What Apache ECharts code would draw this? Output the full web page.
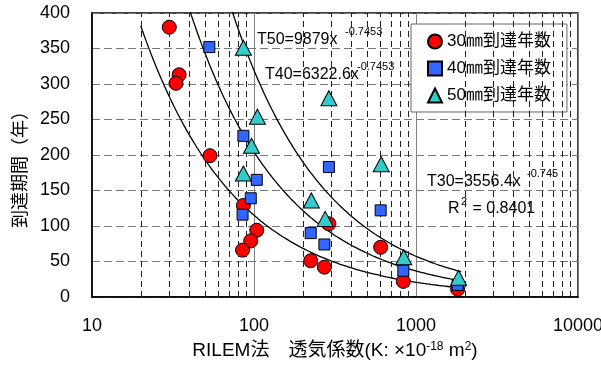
<!DOCTYPE html>
<html>
<head>
    <meta charset="UTF-8">
    <title>ECharts</title>
    <script src="https://cdn.jsdelivr.net/npm/echarts@6/dist/echarts.min.js"></script>
    <style>
        html, body { margin: 0; padding: 0; background: #fff; }
        #main { width: 601px; height: 367px; }
    </style>
</head>
<body>
    <div id="main"></div>
    <script type="text/javascript">
        // 30mm到達年数 [K, 年]
        var t30 = [
            [30, 380], [34.5, 313], [33, 301], [53.5, 199], [86, 129], [104, 94],
            [95.5, 79], [85, 66], [224, 51], [272, 42], [290, 103], [605, 70],
            [835, 22], [1807, 11]
        ];
        // 40mm到達年数
        var t40 = [
            [53, 352], [86, 227], [104, 165], [95.5, 139], [85, 116], [290, 183],
            [224, 90], [272, 74], [605, 122], [835, 37], [1807, 17]
        ];
        // 50mm到達年数
        var t50 = [
            [86, 351], [290, 280], [105, 254], [96.5, 213], [86, 174], [226, 136],
            [275, 110], [610, 187], [840, 56], [1830, 27]
        ];
        // 近似曲線 T = a * x^b
        var fitA = [3556.4, 6322.6, 9879];
        var fitB = [-0.745, -0.7453, -0.7453];
        var fitRange = [20, 1900];

        var yTicks = [0, 50, 100, 150, 200, 250, 300, 350, 400];
        var xTicks = [10, 100, 1000, 10000];
        var minorGrid = [20, 30, 40, 50, 60, 70, 80, 90, 200, 300, 400, 500, 600, 700, 800, 900,
                         2000, 3000, 4000, 5000, 6000, 7000, 8000, 9000];

        var FONT = "'Liberation Sans', Arial, 'Noto Sans CJK JP'";

        function fitCurve(a, b) {
            var pts = [];
            var n = 60;
            var l0 = Math.log10(fitRange[0]), l1 = Math.log10(fitRange[1]);
            for (var i = 0; i <= n; i++) {
                var x = Math.pow(10, l0 + (l1 - l0) * i / n);
                pts.push([x, a * Math.pow(x, b)]);
            }
            return pts;
        }

        var myChart = echarts.init(document.getElementById('main'));

        var fitSeries = fitA.map(function (a, i) {
            return {
                name: 'fit' + i,
                type: 'line',
                data: fitCurve(a, fitB[i]),
                showSymbol: false,
                smooth: true,
                clip: true,
                z: 3,
                silent: true,
                lineStyle: { color: '#000', width: 1.3 }
            };
        });

        var option = {
            animation: false,
            backgroundColor: '#fff',
            textStyle: { fontFamily: FONT },
            grid: {
                left: 92, right: 23, top: 13, bottom: 70,
                outerBoundsMode: 'none', containLabel: false,
                show: true, borderColor: '#000', borderWidth: 1.5, backgroundColor: 'transparent'
            },
            legend: {
                data: ['30㎜到達年数', '40㎜到達年数', '50㎜到達年数'],
                orient: 'vertical',
                left: 411, top: 24,
                padding: [9, 16, 8, 16],
                itemGap: 10,
                itemWidth: 14, itemHeight: 14,
                backgroundColor: '#fff',
                borderColor: '#666',
                borderWidth: 1,
                textStyle: { fontSize: 17, color: '#000', fontFamily: FONT }
            },
            xAxis: {
                type: 'log',
                logBase: 10,
                min: xTicks[0],
                max: xTicks[xTicks.length - 1],
                axisLine: { lineStyle: { color: '#000', width: 1.5 } },
                axisTick: { show: false },
                axisLabel: {
                    fontSize: 18, color: '#000', margin: 20, fontFamily: FONT,
                    formatter: function (v) { return String(Math.round(v)); }
                },
                splitLine: { show: true, lineStyle: { color: '#808080', width: 1 } },
                name: 'RILEM法　透気係数(K: ×10{s|-18} m{s|2})',
                nameLocation: 'middle',
                nameGap: 44,
                nameTextStyle: {
                    fontSize: 19, color: '#000', fontFamily: FONT,
                    rich: { s: { fontSize: 12, verticalAlign: 'top', color: '#000', fontFamily: FONT } }
                }
            },
            yAxis: {
                type: 'value',
                min: 0, max: 400, interval: 50,
                axisLine: { lineStyle: { color: '#000', width: 1.5 } },
                axisTick: { show: false },
                axisLabel: { fontSize: 18, color: '#000', margin: 22, fontFamily: FONT },
                splitLine: { show: true, lineStyle: { color: '#777', width: 1.2, type: [8, 4] } }
            },
            graphic: [
                { type: 'text', x: 19, y: 165, rotation: Math.PI / 2, style: { text: '到達期間（年）', font: "18px 'Noto Sans CJK JP'", fill: '#000', align: 'center', verticalAlign: 'middle' } },
                { type: 'text', x: 257, y: 40, style: { text: 'T50=9879x', font: '16px ' + FONT, fill: '#000', align: 'left', verticalAlign: 'middle' } },
                { type: 'text', x: 345, y: 32, style: { text: '-0.7453', font: '11px ' + FONT, fill: '#000', align: 'left', verticalAlign: 'middle' } },
                { type: 'text', x: 265, y: 75, style: { text: 'T40=6322.6x', font: '16px ' + FONT, fill: '#000', align: 'left', verticalAlign: 'middle' } },
                { type: 'text', x: 357, y: 67, style: { text: '-0.7453', font: '11px ' + FONT, fill: '#000', align: 'left', verticalAlign: 'middle' } },
                { type: 'text', x: 427, y: 182, style: { text: 'T30=3556.4x', font: '16px ' + FONT, fill: '#000', align: 'left', verticalAlign: 'middle' } },
                { type: 'text', x: 527, y: 174, style: { text: '-0.745', font: '11px ' + FONT, fill: '#000', align: 'left', verticalAlign: 'middle' } },
                { type: 'text', x: 448, y: 209, style: { text: 'R', font: '16px ' + FONT, fill: '#000', align: 'left', verticalAlign: 'middle' } },
                { type: 'text', x: 461, y: 202, style: { text: '2', font: '11px ' + FONT, fill: '#000', align: 'left', verticalAlign: 'middle' } },
                { type: 'text', x: 468, y: 209, style: { text: ' = 0.8401', font: '16px ' + FONT, fill: '#000', align: 'left', verticalAlign: 'middle' } }
            ],
            series: [
                {
                    name: 'minor',
                    type: 'line',
                    data: [],
                    z: 1,
                    markLine: {
                        silent: true,
                        symbol: 'none',
                        label: { show: false },
                        lineStyle: { color: '#222', width: 1, type: [6, 4] },
                        data: minorGrid.map(function (v) { return { xAxis: v }; })
                    }
                }
            ].concat(fitSeries).concat([
                {
                    name: '30㎜到達年数',
                    type: 'scatter',
                    data: t30,
                    symbol: 'circle',
                    symbolSize: 14,
                    z: 5,
                    itemStyle: { color: '#FF0000', borderColor: '#000', borderWidth: 1, opacity: 1 }
                },
                {
                    name: '40㎜到達年数',
                    type: 'scatter',
                    data: t40,
                    symbol: 'rect',
                    symbolSize: 11,
                    z: 6,
                    itemStyle: { color: '#3366FF', borderColor: '#000', borderWidth: 1, opacity: 1 }
                },
                {
                    name: '50㎜到達年数',
                    type: 'scatter',
                    data: t50,
                    symbol: 'triangle',
                    symbolSize: [16, 15],
                    z: 7,
                    itemStyle: { color: '#33CCCC', borderColor: '#000', borderWidth: 1, opacity: 1 }
                }
            ])
        };

        myChart.setOption(option);
    </script>
</body>
</html>
